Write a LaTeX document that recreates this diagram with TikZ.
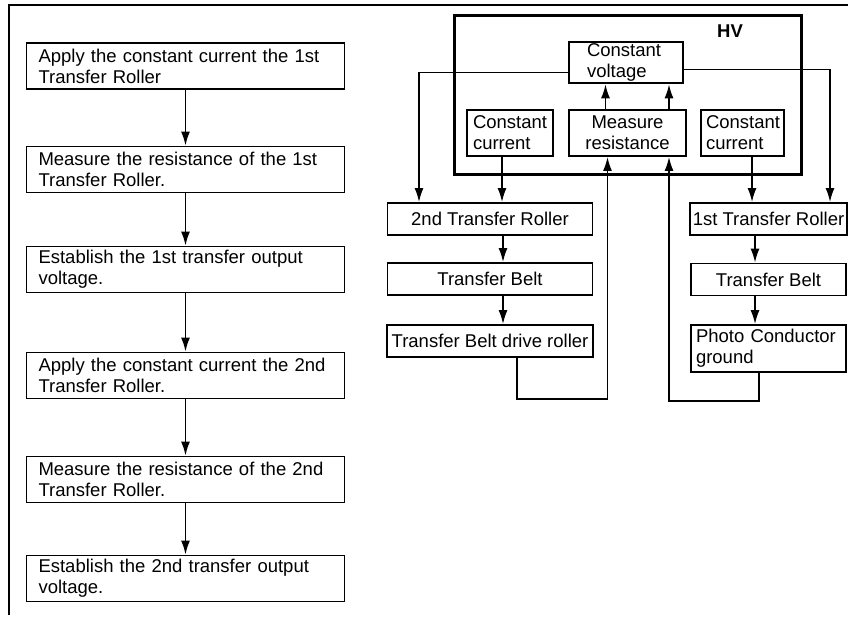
\documentclass[tikz,border=0pt]{standalone}
\usepackage{fontspec}
\setmainfont{Liberation Sans}
\usepackage{tikz}
\usetikzlibrary{arrows.meta,calc}

\tikzset{
    box/.style={draw, line width=1.8pt, inner ysep=2pt, font=\fontsize{18.5}{21}\selectfont},
    stepbox/.style={box, text width=294pt, inner xsep=12pt, align=left, minimum height=46pt},
    partbox/.style={box, align=center, minimum height=32pt},
    hvpart/.style={box, align=left, minimum height=46pt, inner xsep=6pt},
    flow/.style={line width=1.7pt, -{Latex[length=14pt,width=9pt]}},
    wire/.style={line width=1.7pt}
}

\begin{document}
\begin{tikzpicture}[x=1pt,y=-1pt]
    \useasboundingbox (0,0) rectangle (848,618);
    \draw[wire] (9,615)--(9,5)--(848,5);

    % sequence of the transfer voltage setting
    \node[stepbox] (s1) at (185.5,66) {Apply the constant current the 1st\\Transfer Roller};
    \node[stepbox] (s2) at (185.5,169.5) {Measure the resistance of the 1st\\Transfer Roller.};
    \node[stepbox] (s3) at (185.5,269.5) {Establish the 1st transfer output\\voltage.};
    \node[stepbox] (s4) at (185.5,375.5) {Apply the constant current the 2nd\\Transfer Roller.};
    \node[stepbox] (s5) at (185.5,479.5) {Measure the resistance of the 2nd\\Transfer Roller.};
    \node[stepbox] (s6) at (185.5,578.5) {Establish the 2nd transfer output\\voltage.};
    \foreach \a/\b in {s1/s2,s2/s3,s3/s4,s4/s5,s5/s6}
        \draw[flow] (\a) -- (\b);

    % high voltage unit
    \node[draw, line width=3pt, minimum width=347pt, minimum height=158pt] (hv) at (627.5,95) {};
    \node[font=\fontsize{18.5}{21}\selectfont\bfseries] (hvname) at (730,31) {HV};
    \node[box, align=left, text width=78pt, inner xsep=18pt, minimum height=41pt] (cv) at (626,62.5) {Constant\\voltage};
    \node[hvpart, text width=74pt, inner xsep=6pt] (cc1) at (510,133) {Constant\\current};
    \node[box, align=center, minimum width=117pt, minimum height=46pt] (mr) at (627.5,133) {Measure\\resistance};
    \node[hvpart, text width=73pt, inner xsep=5pt] (cc2) at (742.5,133) {Constant\\current};

    % 2nd transfer path
    \node[partbox, minimum width=205pt] (tr2) at (490,219) {2nd Transfer Roller};
    \node[partbox, minimum width=205pt] (tb2) at (490,279) {Transfer Belt};
    \node[partbox, minimum width=206pt] (dr) at (490,341) {Transfer Belt drive roller};

    % 1st transfer path
    \node[partbox, minimum width=157pt, inner xsep=2pt] (tr1) at (768.5,219) {1st Transfer Roller};
    \node[partbox, minimum width=155pt] (tb1) at (768.5,279.5) {Transfer Belt};
    \node[box, align=left, text width=145pt, inner xsep=5pt, minimum height=47pt] (pc) at (768.5,348.5) {Photo Conductor\\ground};

    \draw[flow] ([xshift=13pt]tr2.south) -- ([xshift=13pt]tr2.south |- tb2.north);
    \draw[flow] ([xshift=13pt]tb2.south) -- ([xshift=13pt]tb2.south |- dr.north);
    \draw[flow] ([xshift=-13.5pt]tr1.south) -- ([xshift=-13.5pt]tr1.south |- tb1.north);
    \draw[flow] ([xshift=-13.5pt]tb1.south) -- ([xshift=-13.5pt]tb1.south |- pc.north);

    \draw[flow] ([xshift=-8pt]cc1.south) -- ([xshift=-8pt]cc1.south |- tr2.north);
    \draw[flow] ([xshift=9.5pt]cc2.south) -- ([xshift=9.5pt]cc2.south |- tr1.north);
    \draw[flow] ([yshift=-10pt]cv.west) -| ([xshift=-71pt]tr2.north);
    \draw[flow] ([yshift=-7pt]cv.east) -| ([xshift=61.5pt]tr1.north);
    \draw[flow] ([xshift=-22pt]mr.north) -- ([xshift=-22pt]mr.north |- cv.south);
    \draw[flow] ([xshift=41.5pt]mr.north) -- ([xshift=41.5pt]mr.north |- cv.south);

    % return paths to the resistance measurement
    \draw[flow] ([xshift=27pt]dr.south) -- ++(0,41) -| ([xshift=-20pt]mr.south);
    \draw[flow] ([xshift=-9.5pt]pc.south) -- ++(0,28) -| ([xshift=41.5pt]mr.south);
\end{tikzpicture}
\end{document}
